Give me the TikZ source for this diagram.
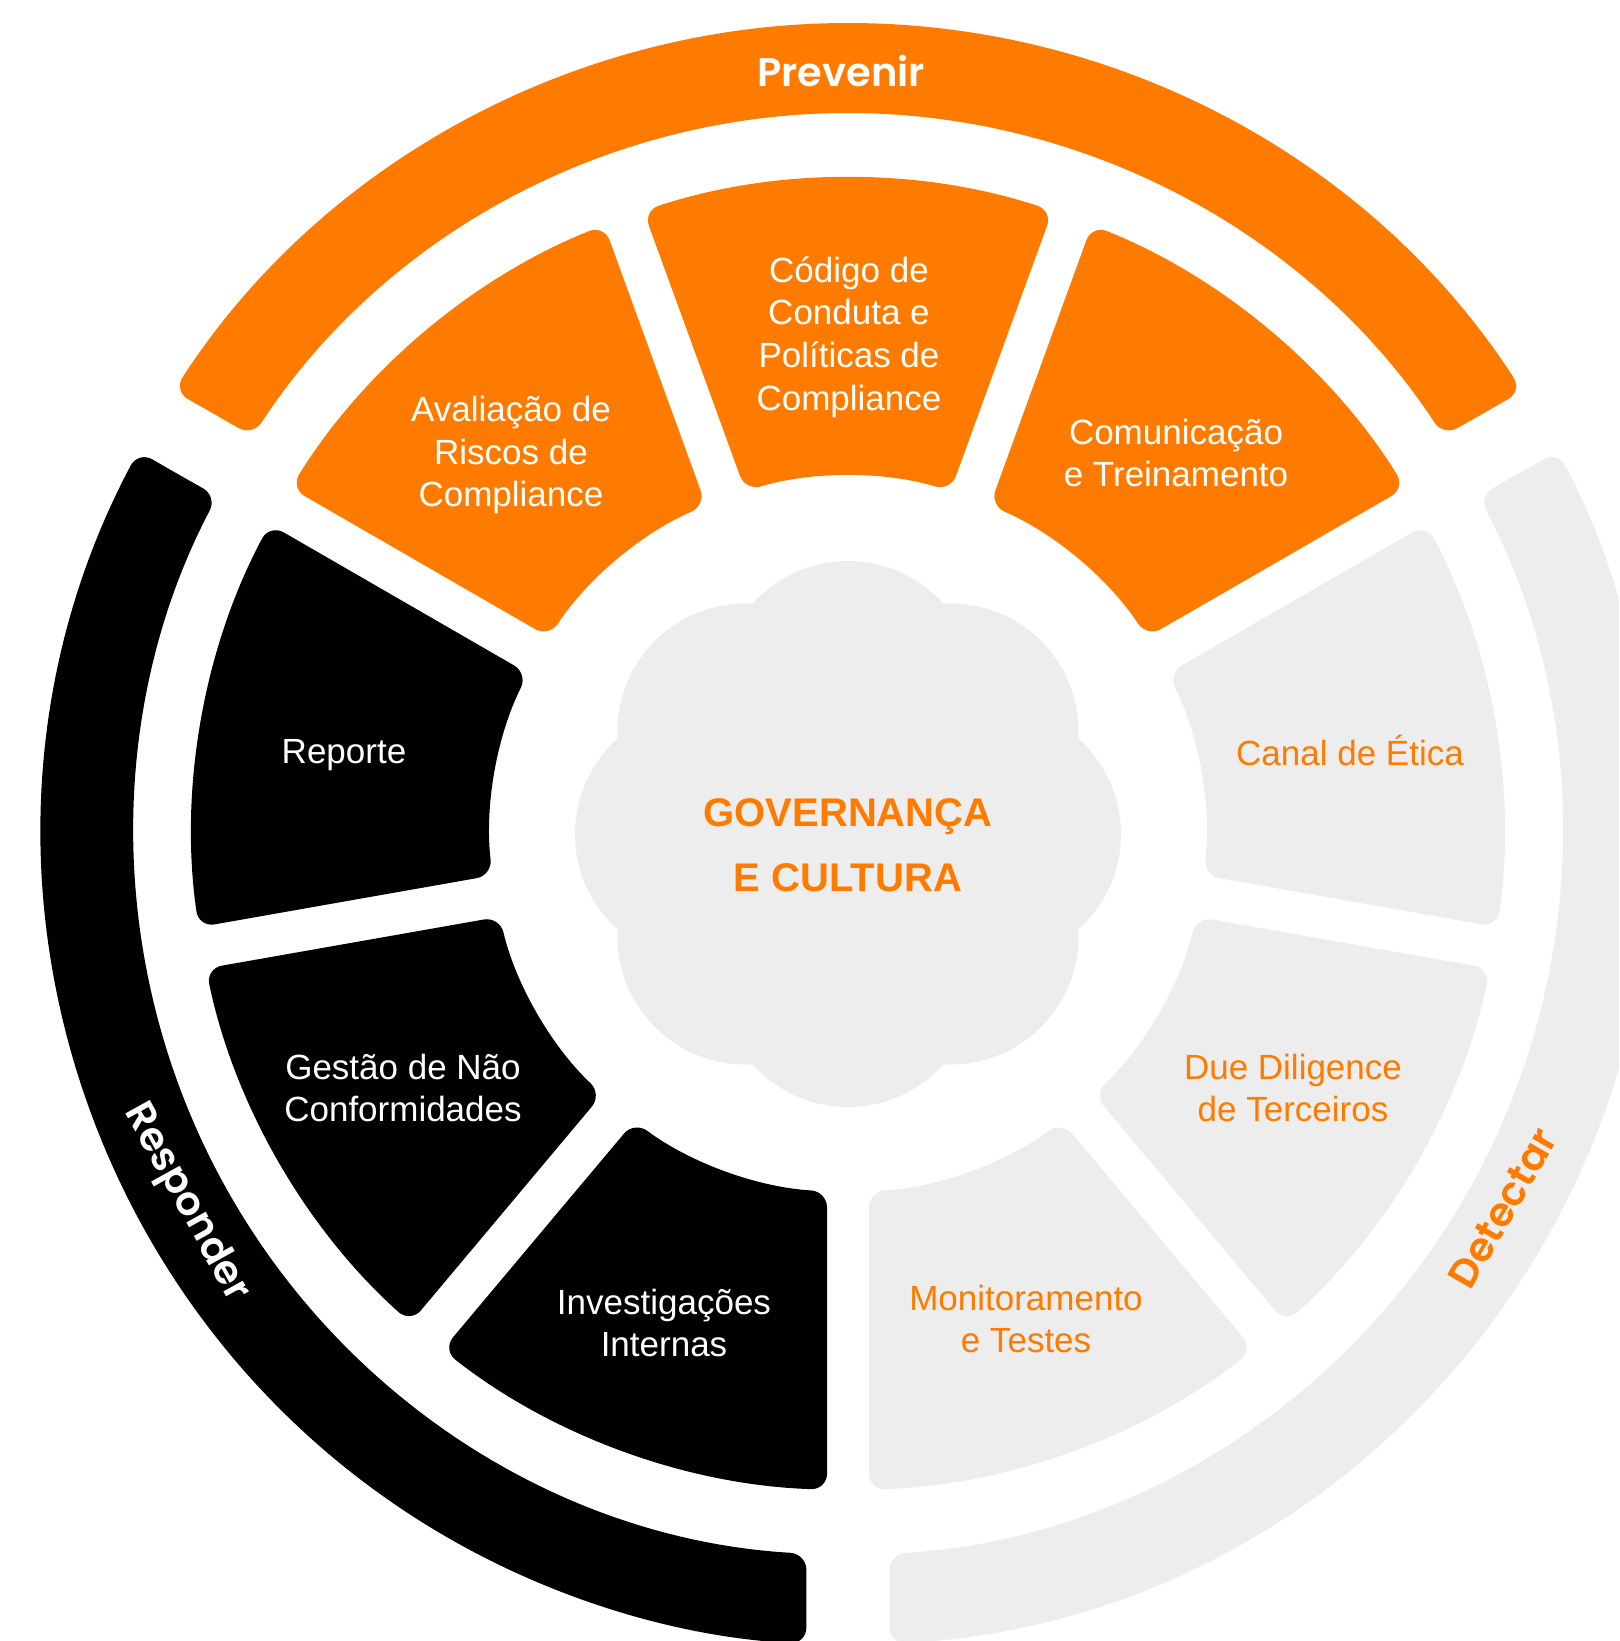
\documentclass[tikz,border=0pt]{standalone}
\usepackage{fontspec}
\setmainfont{Liberation Sans}
\newfontfamily\headfont{Poppins SemiBold}
\definecolor{prevorange}{RGB}{255,123,0}
\definecolor{detgrey}{RGB}{237,237,237}

\begin{document}
\begin{tikzpicture}[x=0.5pt, y=0.5pt,
  seg/.style={rounded corners=8pt},
  t/.style={align=center, inner sep=0pt, font=\fontsize{17.5}{21.4}\selectfont},
  band/.style={inner sep=0pt, font=\headfont\fontsize{20}{24}\selectfont},
  core/.style={align=center, inner sep=0pt, text=prevorange,
    font=\bfseries\fontsize{20}{32.5}\selectfont}]
  \useasboundingbox (-848,-807) rectangle (771,834);
  \clip (-848,-807) rectangle (771,834);

  % outer bands
  \fill[seg, prevorange] (33.30:760 and 766) -- (33.11:805 and 811)
    arc[start angle=33.11, end angle=146.89, x radius=805, y radius=811]
    -- (146.50:714 and 721) arc[start angle=146.50, end angle=33.50, x radius=714, y radius=721] -- cycle;
  \fill[seg, black] (151.95:760 and 766) -- (151.84:805 and 811)
    arc[start angle=151.84, end angle=267.03, x radius=805, y radius=811]
    -- (266.66:714 and 721) arc[start angle=266.66, end angle=152.07, x radius=714, y radius=721] -- cycle;
  \fill[seg, detgrey] (-86.85:760 and 766) -- (-87.03:805 and 811)
    arc[start angle=-87.03, end angle=28.16, x radius=805, y radius=811]
    -- (27.93:714 and 721) arc[start angle=27.93, end angle=-86.66, x radius=714, y radius=721] -- cycle;

  % inner segments
  \fill[seg, prevorange] (72.37:507) -- (71.83:656) arc[start angle=71.83, end angle=108.17, radius=656]
    -- (106.64:358) arc[start angle=106.64, end angle=73.36, radius=358] -- cycle;
  \fill[seg, prevorange] (32.37:507) -- (31.83:656) arc[start angle=31.83, end angle=68.17, radius=656]
    -- (66.64:358) arc[start angle=66.64, end angle=33.36, radius=358] -- cycle;
  \fill[seg, prevorange] (112.37:507) -- (111.83:656) arc[start angle=111.83, end angle=148.17, radius=656]
    -- (146.64:358) arc[start angle=146.64, end angle=113.36, radius=358] -- cycle;
  \fill[seg, black] (152.37:507) -- (151.83:656) arc[start angle=151.83, end angle=188.17, radius=656]
    -- (186.64:358) arc[start angle=186.64, end angle=153.36, radius=358] -- cycle;
  \fill[seg, black] (192.37:507) -- (191.83:656) arc[start angle=191.83, end angle=228.17, radius=656]
    -- (226.64:358) arc[start angle=226.64, end angle=193.36, radius=358] -- cycle;
  \fill[seg, black] (232.37:507) -- (231.83:656) arc[start angle=231.83, end angle=268.17, radius=656]
    -- (266.64:358) arc[start angle=266.64, end angle=233.36, radius=358] -- cycle;
  \fill[seg, detgrey] (272.37:507) -- (271.83:656) arc[start angle=271.83, end angle=308.17, radius=656]
    -- (306.64:358) arc[start angle=306.64, end angle=273.36, radius=358] -- cycle;
  \fill[seg, detgrey] (312.37:507) -- (311.83:656) arc[start angle=311.83, end angle=348.17, radius=656]
    -- (346.64:358) arc[start angle=346.64, end angle=313.36, radius=358] -- cycle;
  \fill[seg, detgrey] (352.37:507) -- (351.83:656) arc[start angle=351.83, end angle=388.17, radius=656]
    -- (386.64:358) arc[start angle=386.64, end angle=353.36, radius=358] -- cycle;

  % cloud
  \fill[detgrey] (0,0) circle[radius=150]
    (0:145) circle[radius=128] (45:145) circle[radius=128] (90:145) circle[radius=128] (135:145) circle[radius=128]
    (180:145) circle[radius=128] (225:145) circle[radius=128] (270:145) circle[radius=128] (315:145) circle[radius=128];

  \node[band, text=white] (prevenir) at (-7,763) {Prevenir};
  \node[band, text=white, rotate=-61] (responder) at (-662,-369) {Responder};
  \node[band, text=prevorange, rotate=60] (detectar) at (655,-374) {Detectar};

  \node[t, text=white] (codigo) at (1,497) {Código de\\Conduta e\\Políticas de\\Compliance};
  \node[t, text=white] (riscos) at (-337,379) {Avaliação de\\Riscos de\\Compliance};
  \node[t, text=white] (comunic) at (328,381) {Comunicação\\e Treinamento};
  \node[t, text=white] (reporte) at (-504,79) {Reporte};
  \node[t, text=white] (gestao) at (-445,-254) {Gestão de Não\\Conformidades};
  \node[t, text=white] (invest) at (-184,-489) {Investigações\\Internas};
  \node[t, text=prevorange] (monit) at (178,-485) {Monitoramento\\e Testes};
  \node[t, text=prevorange] (due) at (445,-254) {Due Diligence\\de Terceiros};
  \node[t, text=prevorange] (canal) at (502,83) {Canal de Ética};
  \node[core] (gov) at (0,-11) {GOVERNANÇA\\E CULTURA};
\end{tikzpicture}
\end{document}
